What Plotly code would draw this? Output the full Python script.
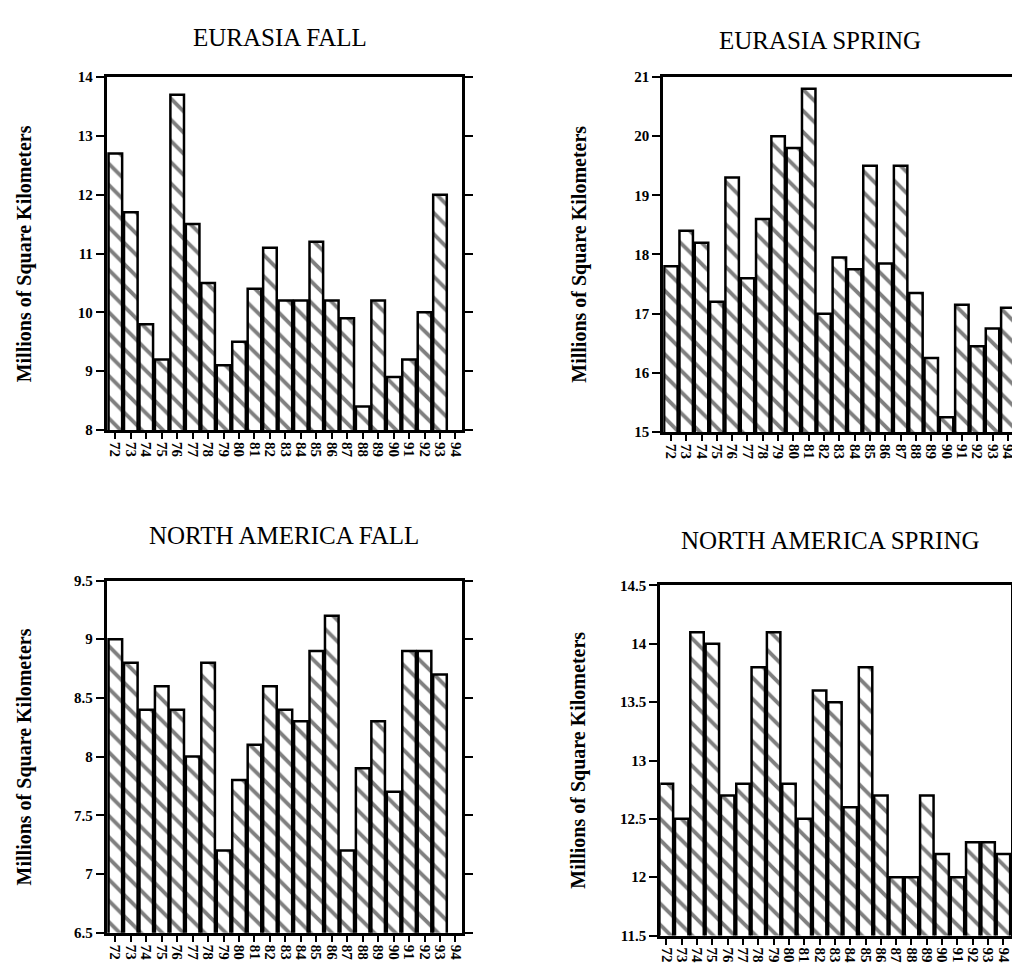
import plotly.graph_objects as go

years = ["72", "73", "74", "75", "76", "77", "78", "79", "80", "81", "82", "83",
         "84", "85", "86", "87", "88", "89", "90", "91", "92", "93", "94"]

eurasia_fall = [12.7, 11.7, 9.8, 9.2, 13.7, 11.5, 10.5, 9.1, 9.5, 10.4, 11.1, 10.2,
                10.2, 11.2, 10.2, 9.9, 8.4, 10.2, 8.9, 9.2, 10.0, 12.0, None]
eurasia_spring = [17.8, 18.4, 18.2, 17.2, 19.3, 17.6, 18.6, 20.0, 19.8, 20.8, 17.0, 17.95,
                  17.75, 19.5, 17.85, 19.5, 17.35, 16.25, 15.25, 17.15, 16.45, 16.75, 17.1]
na_fall = [9.0, 8.8, 8.4, 8.6, 8.4, 8.0, 8.8, 7.2, 7.8, 8.1, 8.6, 8.4,
           8.3, 8.9, 9.2, 7.2, 7.9, 8.3, 7.7, 8.9, 8.9, 8.7, None]
na_spring = [12.8, 12.5, 14.1, 14.0, 12.7, 12.8, 13.8, 14.1, 12.8, 12.5, 13.6, 13.5,
             12.6, 13.8, 12.7, 12.0, 12.0, 12.7, 12.2, 12.0, 12.3, 12.3, 12.2]

titles = ["EURASIA FALL", "EURASIA SPRING", "NORTH AMERICA FALL", "NORTH AMERICA SPRING"]
y_title = "Millions of Square Kilometers"

ticks_ef = [8, 9, 10, 11, 12, 13, 14]
ticks_es = [15, 16, 17, 18, 19, 20, 21]
ticks_nf = [6.5, 7, 7.5, 8, 8.5, 9, 9.5]
ticks_ns = [11.5, 12, 12.5, 13, 13.5, 14, 14.5]

W, H = 1020, 970
FONT = "Liberation Serif"

panels = [
    # values, ticks, x px [l, r], y px [top, bottom], xrange, title pos, ytitle x
    (eurasia_fall, ticks_ef, (98, 457), (62, 421), (-0.55, 22.4), (273, 22), 15),
    (eurasia_spring, ticks_es, (661, 1019), (62, 423), (-0.5, 22.6), (820, 25), 576),
    (na_fall, ticks_nf, (98, 457), (574, 932), (-0.55, 22.4), (277, 528), 15),
    (na_spring, ticks_ns, (658, 1013), (579, 935), (-0.4, 22.5), (830, 533), 575),
]

fig = go.Figure()
annotations = []
for i, (vals, tks, xp, yp, xr, tpos, ytx) in enumerate(panels):
    n = i + 1
    xa = "x" if n == 1 else f"x{n}"
    ya = "y" if n == 1 else f"y{n}"
    fig.add_trace(go.Bar(
        x=list(range(len(years))), y=vals, base=0,
        xaxis=xa, yaxis=ya,
        marker=dict(color="white",
                    line=dict(color="black", width=2.5),
                    pattern=dict(shape="\\", fgcolor="black", bgcolor="white",
                                 size=15, solidity=0.26)),
        showlegend=False, hoverinfo="skip",
    ))
    xkey = "xaxis" if n == 1 else f"xaxis{n}"
    ykey = "yaxis" if n == 1 else f"yaxis{n}"
    fig.layout[xkey] = dict(
        domain=[xp[0] / W, xp[1] / W], anchor=ya, range=list(xr),
        tickmode="array", tickvals=list(range(len(years))), ticktext=years,
        tickangle=90, ticks="outside", ticklen=6, tickwidth=2, tickcolor="black",
        showline=True, linewidth=3, linecolor="black", mirror=True,
        showgrid=False, zeroline=False,
        tickfont=dict(family=FONT, size=15, color="black", weight="bold"),
    )
    fig.layout[ykey] = dict(
        domain=[1 - yp[1] / H, 1 - yp[0] / H], anchor=xa,
        range=[tks[0], tks[-1]],
        tickmode="array", tickvals=tks, ticktext=[f"{t:g}" for t in tks],
        ticks="outside", ticklen=8, tickwidth=2, tickcolor="black",
        showline=True, linewidth=3, linecolor="black", mirror="ticks",
        showgrid=False, zeroline=False,
        tickfont=dict(family=FONT, size=15, color="black", weight="bold"),
    )
    annotations.append(dict(
        text=titles[i], x=tpos[0] / W, y=1 - tpos[1] / H, xref="paper", yref="paper",
        xanchor="center", yanchor="middle", showarrow=False,
        font=dict(family=FONT, size=25, color="black"),
    ))
    annotations.append(dict(
        text=y_title, x=ytx / W, y=1 - ((yp[0] + yp[1]) / 2) / H,
        xref="paper", yref="paper", textangle=-90,
        xanchor="center", yanchor="middle", showarrow=False,
        font=dict(family=FONT, size=20, color="black", weight="bold"),
    ))

fig.update_layout(
    width=W, height=H,
    margin=dict(l=0, r=0, t=0, b=0),
    paper_bgcolor="white", plot_bgcolor="white",
    bargap=0.12,
    annotations=annotations,
)

fig.write_html("out.html")
